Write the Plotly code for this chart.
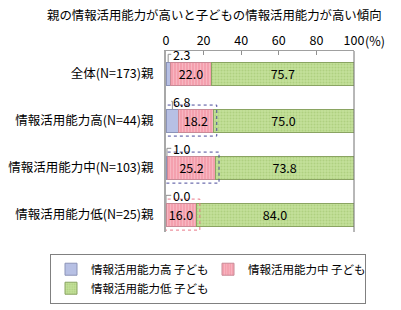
import plotly.graph_objects as go

title = "親の情報活用能力が高いと子どもの情報活用能力が高い傾向"
categories = ["全体(N=173)親", "情報活用能力高(N=44)親", "情報活用能力中(N=103)親", "情報活用能力低(N=25)親"]
series_names = ["情報活用能力高 子ども", "情報活用能力中 子ども", "情報活用能力低 子ども"]
high_child = [2.3, 6.8, 1.0, 0.0]
mid_child = [22.0, 18.2, 25.2, 16.0]
low_child = [75.7, 75.0, 73.8, 84.0]
tick_vals = [0, 20, 40, 60, 80, 100]
tick_text = ["0", "20", "40", "60", "80", "100"]
box_rows = [1, 2, 3]
box_colors = ["#4a4a9a", "#4a4a9a", "#e87888"]

FONT = "Noto Sans CJK JP"
fig = go.Figure()
fig.add_trace(go.Bar(
    y=categories, x=high_child, name=series_names[0], orientation="h", width=0.49,
    marker=dict(color="#b7c0e4", line=dict(color="#8c94b8", width=1)),
))
fig.add_trace(go.Bar(
    y=categories, x=mid_child, name=series_names[1], orientation="h", width=0.49,
    text=[f"{v:.1f}" for v in mid_child], textposition="inside", insidetextanchor="middle",
    textangle=0, constraintext="none",
    textfont=dict(family=FONT, size=12.5, color="#000"),
    marker=dict(color="#f6a8b5", line=dict(color="#c98a96", width=1),
                pattern=dict(shape="|", fgcolor="#fbd0d8", bgcolor="#f4a0ae", size=3, solidity=0.3)),
))
fig.add_trace(go.Bar(
    y=categories, x=low_child, name=series_names[2], orientation="h", width=0.49,
    text=[f"{v:.1f}" for v in low_child], textposition="inside", insidetextanchor="middle",
    textangle=0, constraintext="none",
    textfont=dict(family=FONT, size=12.5, color="#000"),
    marker=dict(color="#b8d88a", line=dict(color="#8aa462", width=1),
                pattern=dict(shape=".", fgcolor="#9cc066", bgcolor="#c3e09a", size=3, solidity=0.35)),
))

shapes = []
annotations = []
for i, v in enumerate(high_child):
    xc = v / 2
    shapes.append(dict(type="path", xref="x", yref="y",
                       path=f"M {xc},{i-0.245} L {xc},{i-0.41} L 2.8,{i-0.41}",
                       line=dict(color="#909090", width=1)))
    annotations.append(dict(x=2.8, y=categories[i], xref="x", yref="y", text=f"{v:.1f}",
                            showarrow=False, xanchor="left", yanchor="middle", yshift=19.5,
                            font=dict(family=FONT, size=12.5, color="#000")))
for r, c in zip(box_rows, box_colors):
    s = high_child[r] + mid_child[r]
    shapes.append(dict(type="rect", xref="x", yref="y", x0=-2.3, x1=s + 2.0,
                       y0=r - 0.33, y1=r + 0.33,
                       line=dict(color=c, width=1, dash="dot")))
# right border
shapes.append(dict(type="line", xref="paper", yref="paper", x0=1, x1=1, y0=0, y1=1,
                   line=dict(color="#707070", width=1)))
annotations.append(dict(x=100, y=1, xref="x", yref="paper", text="(%)", showarrow=False,
                        xanchor="left", yanchor="middle", xshift=9, yshift=11,
                        font=dict(family=FONT, size=12.5, color="#000")))
annotations.append(dict(x=0.26, y=1, xref="paper", yref="paper", text=title, showarrow=False,
                        xanchor="center", yanchor="middle", font=dict(family=FONT, size=12.4, color="#000"),
                        yshift=36))

fig.update_layout(
    width=401, height=310, barmode="stack",
    margin=dict(l=166, r=47, t=51, b=78, autoexpand=False),
    paper_bgcolor="white", plot_bgcolor="white",
    font=dict(family=FONT, size=12.5, color="#000"),
    shapes=shapes, annotations=annotations,
    legend=dict(orientation="h", x=-0.617, y=-0.12, xanchor="left", yanchor="top",
                bordercolor="#808080", borderwidth=1, bgcolor="white",
                entrywidth=112, entrywidthmode="pixels", itemwidth=30,
                font=dict(family=FONT, size=11.5, color="#000"), traceorder="normal"),
    uniformtext=dict(mode="show", minsize=8),
)
fig.update_xaxes(side="top", range=[0, 100], tickvals=tick_vals, ticktext=tick_text,
                 ticks="inside", ticklen=4, tickcolor="#909090", showline=True, linecolor="#a0a0a0",
                 linewidth=1, showgrid=False, zeroline=False, fixedrange=True,
                 tickfont=dict(family=FONT, size=12.5, color="#000"))
fig.update_yaxes(type="category", categoryorder="array", categoryarray=categories,
                 range=[3.37, -0.48], showline=True, linecolor="#a8a8a8", linewidth=2,
                 ticks="", showgrid=False, zeroline=False, ticklabelstandoff=8,
                 tickfont=dict(family=FONT, size=12.5, color="#000"))

fig.write_html("out.html")
